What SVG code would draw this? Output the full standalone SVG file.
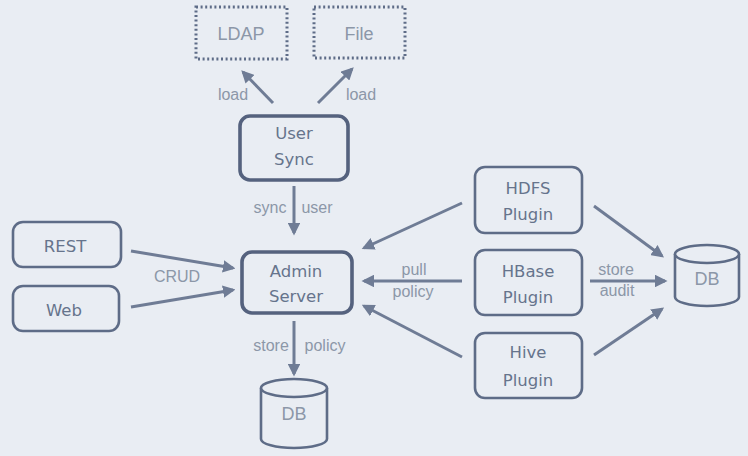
<svg xmlns="http://www.w3.org/2000/svg" width="748" height="456" viewBox="0 0 748 456">
<style>
.bg{fill:#e9edf3}
.node{fill:#e9edf3;stroke:#5e6c87;stroke-width:2.6}
.thick{stroke:#55627e;stroke-width:3.6}
.dot{fill:none;stroke:#5e6c87;stroke-width:3;stroke-dasharray:2 2.6}
.ntxt{font-family:"DejaVu Sans","Noto Sans",sans-serif;font-size:16.5px;fill:#66748c;text-anchor:middle}
.dtxt{font-family:"Liberation Sans",Arial,sans-serif;font-size:18px;fill:#8c97a8;text-anchor:middle}
.lbl{font-family:"Liberation Sans",Arial,sans-serif;font-size:16px;fill:#8c97a8;text-anchor:middle}
.cyl{fill:#e9edf3;stroke:#5e6c87;stroke-width:2.6}
.edge{stroke:#6f7c95;stroke-width:3;fill:none;marker-end:url(#ah)}
</style>
<defs>
<marker id="ah" viewBox="0 0 10 10" refX="8" refY="5" markerWidth="4.2" markerHeight="4.2" orient="auto" markerUnits="strokeWidth">
<path d="M0,0 L10,5 L0,10 Z" fill="#6f7c95"/>
</marker>
</defs>
<rect class="bg" x="0" y="0" width="748" height="456"/>

<g id="ldap">
<rect class="dot" x="196" y="7" width="91" height="52"/>
<text class="dtxt" x="241" y="40">LDAP</text>
</g>
<g id="file">
<rect class="dot" x="314" y="7" width="91" height="51"/>
<text class="dtxt" x="359" y="40">File</text>
</g>
<g id="usersync">
<rect class="node thick" x="240" y="116" width="108" height="64" rx="10"/>
<text class="ntxt" x="294" y="139">User</text>
<text class="ntxt" x="294" y="165">Sync</text>
</g>
<g id="admin">
<rect class="node thick" x="242" y="252" width="110" height="61" rx="10"/>
<text class="ntxt" x="296" y="277">Admin</text>
<text class="ntxt" x="296" y="302">Server</text>
</g>
<g id="rest">
<rect class="node" x="13" y="222" width="108" height="45" rx="10"/>
<text class="ntxt" x="65" y="252">REST</text>
</g>
<g id="web">
<rect class="node" x="13" y="286" width="106" height="45" rx="10"/>
<text class="ntxt" x="64" y="316">Web</text>
</g>
<g id="hdfs">
<rect class="node" x="475" y="167" width="107" height="66" rx="10"/>
<text class="ntxt" x="528" y="194">HDFS</text>
<text class="ntxt" x="528" y="220">Plugin</text>
</g>
<g id="hbase">
<rect class="node" x="475" y="250" width="107" height="65" rx="10"/>
<text class="ntxt" x="528" y="277">HBase</text>
<text class="ntxt" x="528" y="303">Plugin</text>
</g>
<g id="hive">
<rect class="node" x="475" y="333" width="107" height="65" rx="10"/>
<text class="ntxt" x="528" y="358">Hive</text>
<text class="ntxt" x="528" y="386">Plugin</text>
</g>
<g id="db1">
<path class="cyl" d="M261,388 L261,439 A33,9 0 0 0 327,439 L327,388"/>
<ellipse class="cyl" cx="294" cy="388" rx="33" ry="9"/>
<text class="dtxt" x="294" y="420">DB</text>
</g>
<g id="db2">
<path class="cyl" d="M675,254 L675,297 A32,9 0 0 0 739,297 L739,254"/>
<ellipse class="cyl" cx="707" cy="254" rx="32" ry="9"/>
<text class="dtxt" x="707" y="285">DB</text>
</g>

<g id="connectors">
<line class="edge" x1="273" y1="103" x2="243" y2="72"/>
<line class="edge" x1="318" y1="103" x2="352" y2="69"/>
<line class="edge" x1="294" y1="186" x2="294" y2="233"/>
<line class="edge" x1="131" y1="251" x2="233" y2="268"/>
<line class="edge" x1="131" y1="307" x2="233" y2="290"/>
<line class="edge" x1="294" y1="321" x2="294" y2="374"/>
<line class="edge" x1="462" y1="203" x2="364" y2="248"/>
<line class="edge" x1="462" y1="281" x2="364" y2="281"/>
<line class="edge" x1="462" y1="357" x2="364" y2="306"/>
<line class="edge" x1="594" y1="206" x2="662" y2="256"/>
<line class="edge" x1="590" y1="281" x2="665" y2="281"/>
<line class="edge" x1="594" y1="355" x2="662" y2="309"/>
<text class="lbl" x="233" y="100">load</text>
<text class="lbl" x="361" y="100">load</text>
<text class="lbl" x="270" y="213">sync</text>
<text class="lbl" x="317" y="213">user</text>
<text class="lbl" x="177" y="282">CRUD</text>
<text class="lbl" x="271" y="351">store</text>
<text class="lbl" x="325" y="351">policy</text>
<text class="lbl" x="414" y="275">pull</text>
<text class="lbl" x="413" y="297">policy</text>
<text class="lbl" x="616" y="275">store</text>
<text class="lbl" x="617" y="296">audit</text>
</g>
</svg>
